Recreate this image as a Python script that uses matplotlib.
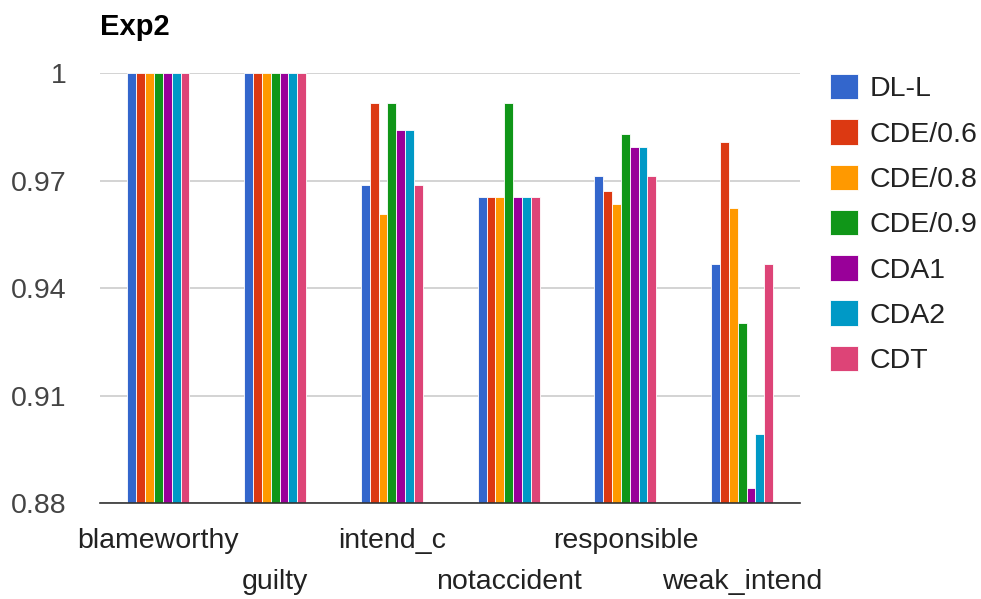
import numpy as np
import matplotlib.pyplot as plt

plt.rcParams['font.family'] = ['Liberation Sans', 'DejaVu Sans']

# data
categories = ['blameworthy', 'guilty', 'intend_c', 'notaccident', 'responsible', 'weak_intend']
series = ['DL-L', 'CDE/0.6', 'CDE/0.8', 'CDE/0.9', 'CDA1', 'CDA2', 'CDT']
dl_l   = [1.0, 1.0, 0.9687, 0.9655, 0.9713, 0.9466]
cde06  = [1.0, 1.0, 0.9916, 0.9655, 0.9672, 0.9808]
cde08  = [1.0, 1.0, 0.9608, 0.9655, 0.9634, 0.9624]
cde09  = [1.0, 1.0, 0.9916, 0.9916, 0.9830, 0.9303]
cda1   = [1.0, 1.0, 0.9841, 0.9655, 0.9793, 0.8843]
cda2   = [1.0, 1.0, 0.9841, 0.9655, 0.9793, 0.8992]
cdt    = [1.0, 1.0, 0.9687, 0.9655, 0.9713, 0.9466]
values = [dl_l, cde06, cde08, cde09, cda1, cda2, cdt]
yticks = [0.88, 0.91, 0.94, 0.97, 1.0]
ytick_labels = ['0.88', '0.91', '0.94', '0.97', '1']

colors = ['#3366cc', '#dc3912', '#ff9900', '#109618', '#990099', '#0099c6', '#dd4477']
fs = 20.5

fig = plt.figure(figsize=(9.81, 5.99), dpi=100)
ax = fig.add_axes([0.102, 0.160, 0.714, 0.718])

x = np.arange(len(categories))
group_w = 0.53
bw = group_w / len(series)
for i, (name, vals) in enumerate(zip(series, values)):
    off = -group_w / 2 + bw * (i + 0.5)
    ax.bar(x + off, np.array(vals) - 0.88, bw, bottom=0.88, color=colors[i],
           edgecolor='white', linewidth=0.6, label=name, zorder=3)

ax.set_xlim(-0.5, len(categories) - 0.5)
ax.set_ylim(0.88, 1.0)
ax.set_yticks(yticks)
ax.set_yticklabels(ytick_labels, fontsize=fs, color='#444444')
ax.yaxis.grid(True, color='#cccccc', linewidth=1.2, zorder=0)
ax.tick_params(axis='y', length=0, pad=24)
ax.tick_params(axis='x', length=0)
ax.set_xticks(x)
ax.set_xticklabels([])

# two-row category labels as in the original
for k, c in enumerate(categories):
    ax.annotate(c, xy=(x[k], 0), xycoords=('data', 'axes fraction'),
                xytext=(0, -27.5 if k % 2 == 0 else -56.5), textcoords='offset points',
                ha='center', va='center', fontsize=fs, color='#222222')

for s in ['top', 'right', 'left']:
    ax.spines[s].set_visible(False)
ax.spines['bottom'].set_color('#333333')
ax.spines['bottom'].set_linewidth(1.2)
ax.spines['bottom'].set_zorder(4)

fig.text(0.102, 0.955, 'Exp2', fontsize=21, fontweight='bold', va='center', ha='left')

leg = fig.legend(*ax.get_legend_handles_labels(), loc='upper left',
                 bbox_to_anchor=(830 / 981, 1 - 74 / 599), frameon=False, borderpad=0,
                 borderaxespad=0, fontsize=fs, handlelength=1.0, handleheight=1.0,
                 labelspacing=0.59, handletextpad=0.4)
for t in leg.get_texts():
    t.set_color('#222222')

fig.savefig('out.png', dpi=100)
